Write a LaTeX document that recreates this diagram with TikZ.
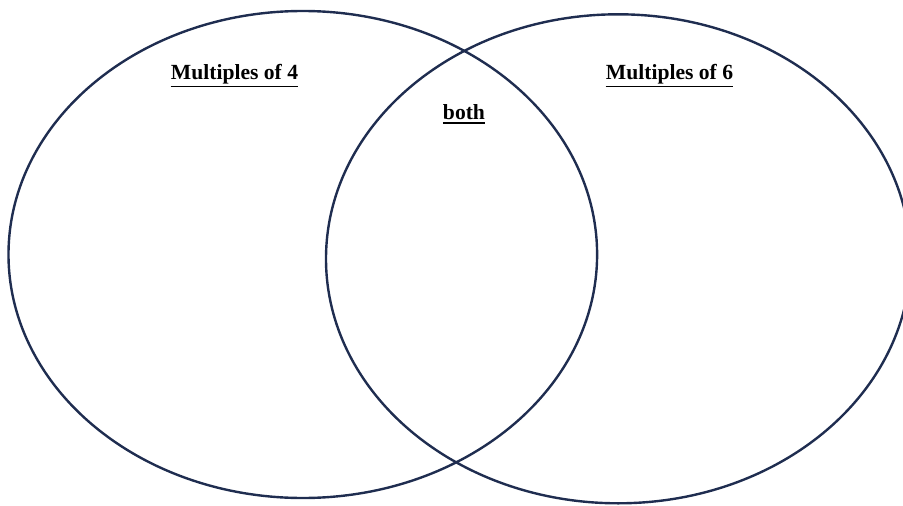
\documentclass[tikz,border=0pt]{standalone}
\usepackage{fontspec}
\setmainfont{Liberation Serif}
\definecolor{navy}{HTML}{1F2D50}
\begin{document}
\begin{tikzpicture}[x=1pt,y=-1pt,
  ring/.style={draw=navy,line width=2.4pt},
  lbl/.style={anchor=base,inner sep=0pt,font=\fontsize{21.6}{26}\selectfont\bfseries},
  uline/.style={draw=black,line width=1.9pt}]
\useasboundingbox (0,0) rectangle (903,506);
\path[ring] (302.8,254.5) ellipse [x radius=294.3, y radius=243.5];
\path[ring] (618.2,258.8) ellipse [x radius=292.2, y radius=244.5];
\node[lbl] (a) at (234.5,79) {Multiples of 4};
\node[lbl] (b) at (669.5,79) {Multiples of 6};
\node[lbl] (c) at (464,119.5) {both};
\path[uline] ([yshift=-7.5pt]a.base west) -- ([yshift=-7.5pt]a.base east);
\path[uline] ([yshift=-7.5pt]b.base west) -- ([yshift=-7.5pt]b.base east);
\path[uline] ([yshift=-3.8pt]c.base west) -- ([yshift=-3.8pt]c.base east);
\end{tikzpicture}
\end{document}
